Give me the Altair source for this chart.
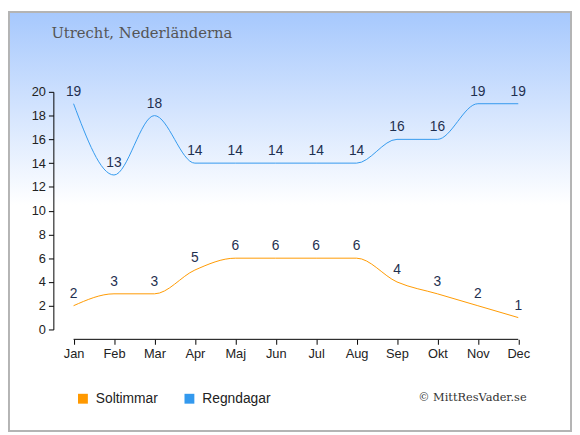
import altair as alt
import pandas as pd

months = ["Jan", "Feb", "Mar", "Apr", "Maj", "Jun", "Jul", "Aug", "Sep", "Okt", "Nov", "Dec"]
sun_hours = [2, 3, 3, 5, 6, 6, 6, 6, 4, 3, 2, 1]
rain_days = [19, 13, 18, 14, 14, 14, 14, 14, 16, 16, 19, 19]
series_names = ["Soltimmar", "Regndagar"]
series_colors = ["#ff9900", "#3399ee"]
y_ticks = [0, 2, 4, 6, 8, 10, 12, 14, 16, 18, 20]
title_text = "Utrecht, Nederländerna"
credit_text = "© MittResVader.se"

W, H = 492, 241

df = pd.DataFrame({
    "month": months * 2,
    "value": sun_hours + rain_days,
    "series": [series_names[0]] * len(months) + [series_names[1]] * len(months),
})

x_enc = alt.X(
    "month:N", sort=months,
    scale=alt.Scale(type="point", padding=0.5),
    axis=alt.Axis(title=None, domain=False, offset=10, labelAngle=0, tickSize=5,
                  tickColor="#000", labelPadding=3, labelFontSize=13,
                  labelColor="#222", labelFont="Liberation Sans", grid=False, zindex=2),
)
y_enc = alt.Y(
    "value:Q",
    scale=alt.Scale(domain=[0, 20], nice=False, zero=True),
    axis=alt.Axis(title=None, values=y_ticks, grid=False, tickSize=5, tickColor="#000",
                  domainColor="#000", labelPadding=3, labelFontSize=13, labelOverlap=False,
                  labelColor="#222", labelFont="Liberation Sans", zindex=2),
)
series_scale = alt.Scale(domain=series_names, range=series_colors)

gradient = alt.Gradient(
    gradient="linear",
    stops=[alt.GradientStop(color="#a6c8fd", offset=0),
           alt.GradientStop(color="#ffffff", offset=0.46),
           alt.GradientStop(color="#ffffff", offset=1)],
    x1=0, x2=0, y1=0, y2=1,
)

bg = alt.Chart(pd.DataFrame({"k": [0]})).mark_rect(
    fill=gradient, stroke="#b4b4b4", strokeWidth=2
).encode(
    x=alt.value(-45), x2=alt.value(525), y=alt.value(-81), y2=alt.value(344)
)

base = alt.Chart(df)

lines = base.mark_line(interpolate="monotone", strokeWidth=1).encode(
    x=x_enc, y=y_enc,
    stroke=alt.Stroke(
        "series:N", scale=series_scale,
        legend=alt.Legend(
            orient="none", legendX=23, legendY=304, direction="horizontal", title=None,
            symbolType="square", symbolSize=25, symbolStrokeWidth=5, labelFontSize=14,
            labelFont="Liberation Sans", labelColor="#222", columnPadding=18,
            labelOffset=6, zindex=2,
        ),
    ),
)

labels = base.mark_text(dy=-12, fontSize=14, font="Liberation Sans", color="#1f3050").encode(
    x=x_enc, y=y_enc, text="value:Q"
)

xline = alt.Chart(pd.DataFrame({"month": [months[0], months[-1]]})).mark_line(
    color="#000", strokeWidth=1
).encode(x=x_enc, y=alt.value(H + 10))

title = alt.Chart(pd.DataFrame({"t": [title_text]})).mark_text(
    align="left", baseline="middle", font="DejaVu Serif", fontSize=15, color="#555"
).encode(x=alt.value(-2), y=alt.value(-60), text="t:N")

credit = alt.Chart(pd.DataFrame({"t": [credit_text]})).mark_text(
    align="right", baseline="middle", font="DejaVu Serif", fontSize=11.5, color="#333"
).encode(x=alt.value(480), y=alt.value(311), text="t:N")

chart = alt.layer(bg, lines, labels, xline, title, credit).properties(
    width=W, height=H, padding=0
).configure_view(stroke=None)

chart.save("out.html", embed_options={"renderer": "svg", "actions": False})
